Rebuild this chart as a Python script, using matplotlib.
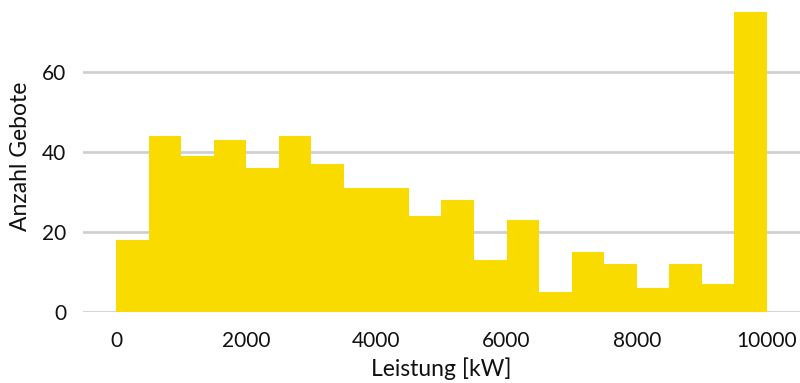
import matplotlib
matplotlib.use("Agg")
import matplotlib.pyplot as plt
import numpy as np

plt.rcParams['font.family'] = ['Lato', 'DejaVu Sans']

# Histogram of bids by power, 500 kW bins
bin_edges = list(range(0, 10001, 500))
counts = [18, 44, 39, 43, 36, 44, 37, 31, 31, 24, 28, 13, 23, 5, 15, 12, 6, 12, 7, 75]
x_ticks = [0, 2000, 4000, 6000, 8000, 10000]
y_ticks = [0, 20, 40, 60]

fig = plt.figure(figsize=(8, 3.83), dpi=100)
ax = fig.add_axes([83 / 800, 71 / 383, 717 / 800, 312 / 383 * 0.999])

ax.stairs(counts, bin_edges, fill=True, color='#F9DB00', zorder=3, linewidth=0)

ax.set_xlim(-510, 10510)
ax.set_ylim(0, 78)
ax.set_xticks(x_ticks)
ax.set_yticks(y_ticks)
ax.yaxis.grid(True, color='#D0D0D0', linewidth=2, zorder=0)
ax.set_axisbelow(True)
for s in ax.spines.values():
    s.set_visible(False)
ax.tick_params(length=0, labelsize=15, colors='#111111', pad=12)
ax.tick_params(axis='x', pad=14)

ax.set_xlabel('Leistung [kW]', fontsize=16.5, color='#111111', labelpad=4)
ax.set_ylabel('Anzahl Gebote', fontsize=16.5, color='#111111', labelpad=8)

fig.savefig('out.png', dpi=100)
